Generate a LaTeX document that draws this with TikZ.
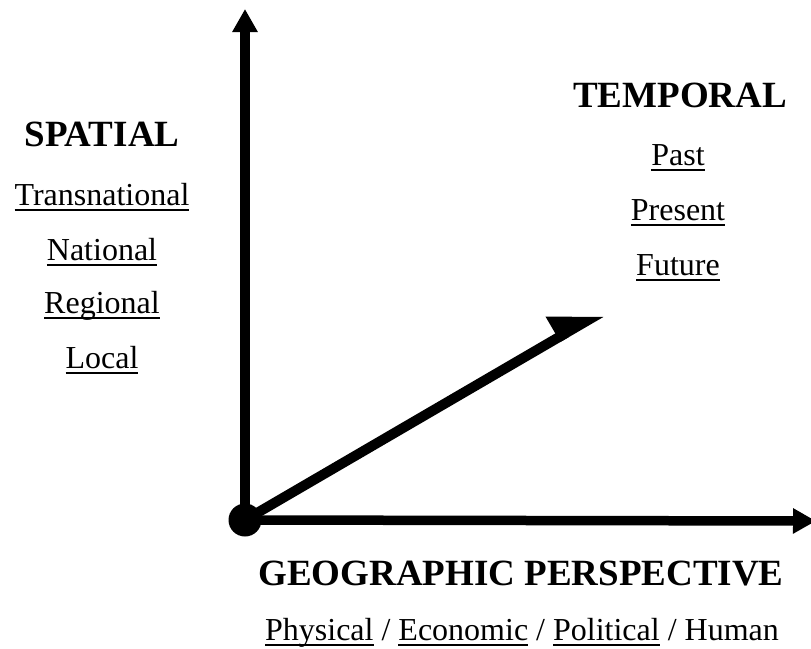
\documentclass[tikz,border=0pt]{standalone}
\usepackage{fontspec}
\setmainfont{Liberation Serif}
\usetikzlibrary{arrows.meta}

% underline at a fixed depth below the baseline
\newsavebox\ulbox
\newcommand\ulword[1]{\sbox\ulbox{#1}\rlap{\rule[-6pt]{\wd\ulbox}{1.8pt}}\usebox\ulbox}

\tikzset{
  heading/.style={font=\fontsize{37}{40}\selectfont\bfseries, anchor=base, inner sep=0pt},
  item/.style={font=\fontsize{32}{36}\selectfont, anchor=base, inner sep=0pt},
  axis/.style={line width=9.5pt, -{Triangle[length=23pt,width=24pt]}},
  trend/.style={line width=10pt, -{Triangle[harpoon,length=42pt,width=46pt]}},
  origin/.style={circle, fill=black, minimum size=33pt, inner sep=0pt}
}

\begin{document}
\begin{tikzpicture}[x=1pt,y=-1pt]
  \useasboundingbox (0,0) rectangle (811,648);

  % origin and arrow end points
  \node[origin] (O) at (245,520) {};
  \coordinate (ytip) at (245,9);
  \coordinate (xtip) at (816,521);
  \coordinate (ttip) at (602,312);

  % axes and the time arrow
  \draw[axis] (O.center) -- (ytip);
  \draw[axis] (O.center) -- (xtip);
  \draw[trend] (O.center) -- (ttip);

  % spatial scale
  \node[heading] (spatial) at (102,146) {SPATIAL};
  \node[item] (s1) at (102,205) {\ulword{Transnational}};
  \node[item] (s2) at (102,260) {\ulword{National}};
  \node[item] (s3) at (102,313) {\ulword{Regional}};
  \node[item] (s4) at (102,368) {\ulword{Local}};

  % temporal scale
  \node[heading] (temporal) at (680,107) {TEMPORAL};
  \node[item] (t1) at (678,165) {\ulword{Past}};
  \node[item] (t2) at (678,220) {\ulword{Present}};
  \node[item] (t3) at (678,275) {\ulword{Future}};

  % perspectives
  \node[heading] (geo) at (521,585) {GEOGRAPHIC PERSPECTIVE};
  \node[item] (persp) at (522,640)
    {\ulword{Physical} / \ulword{Economic} / \ulword{Political} / Human};
\end{tikzpicture}
\end{document}
